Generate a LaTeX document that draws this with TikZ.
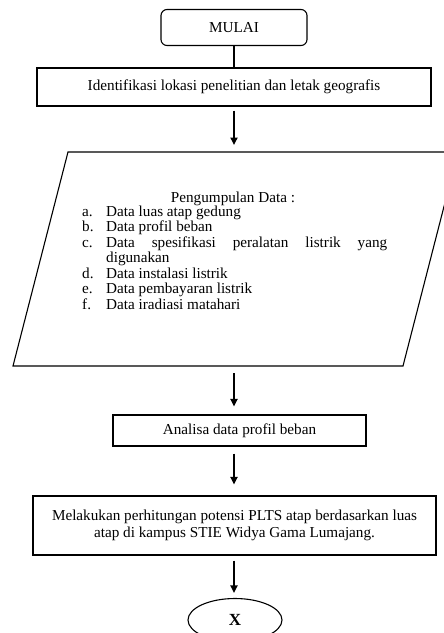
\documentclass[tikz,border=0pt]{standalone}
\usepackage{fontspec}
\setmainfont{Liberation Serif}
\usetikzlibrary{arrows.meta,shapes.geometric}
\begin{document}
\begin{tikzpicture}[x=1pt,y=-1pt,
  every node/.style={font=\fontsize{15.2}{17.5}\selectfont},
  box/.style={draw=black,line width=1.1pt,inner sep=0pt,align=center},
  conn/.style={line width=1.8pt},
  arr/.style={line width=1.8pt,-{Triangle[length=7.5pt,width=7pt]}},
  itemtext/.style={anchor=base west,inner sep=0pt}
]
\useasboundingbox[fill=white] (0,0) rectangle (444,633);
% start
\node[box,rounded corners=6pt,minimum width=146pt,minimum height=36pt] (mulai) at (234,27.5) {MULAI};
\node[box,minimum width=394pt,minimum height=38pt] (ident) at (234,87) {Identifikasi lokasi penelitian dan letak geografis};
% parallelogram
\begin{scope}
\clip (0,0) rectangle (444,633);
\draw[line width=1.1pt] (13,366) -- (403,366) -- (458,152) -- (68,152) -- cycle;
\end{scope}
\coordinate (partop) at (234,152);
\coordinate (parbot) at (234,366);
\node[anchor=base,inner sep=0pt] (pgtitle) at (233,202) {Pengumpulan Data :};
\foreach \lab/\txt/\yy [count=\i] in {a./Data luas atap gedung/216, b./Data profil beban/231.5, c./{\makebox[281pt][s]{Data spesifikasi peralatan listrik yang}}/247, /digunakan/262.5, d./Data instalasi listrik/278, e./Data pembayaran listrik/293.5, f./Data iradiasi matahari/309}{
  \node[itemtext] (lab\i) at (82,\yy) {\lab};
  \node[itemtext] (txt\i) at (106,\yy) {\txt};
}
\node[box,minimum width=253pt,minimum height=31pt] (ana) at (239.5,430.5) {Analisa data profil beban};
\node[box,minimum width=403pt,minimum height=59pt] (calc) at (234.5,525.5) {Melakukan perhitungan potensi PLTS atap berdasarkan luas\\atap di kampus STIE Widya Gama Lumajang.};
\node[draw=black,line width=1.1pt,ellipse,inner sep=0pt,minimum width=94pt,minimum height=43pt] (endx) at (235,620) {\fontsize{17}{20}\selectfont\textbf{X}};
% connectors
\draw[conn] (mulai.south) -- (ident.north);
\draw[arr,shorten <=4pt,shorten >=7pt] (ident.south) -- (partop);
\draw[arr,shorten <=7pt,shorten >=8pt] (parbot) -- (ana.north -| parbot);
\draw[arr,shorten <=7pt,shorten >=11pt] (ana.south -| parbot) -- (calc.north -| parbot);
\draw[arr,shorten <=5pt,shorten >=5pt] (calc.south -| parbot) -- (endx.north -| parbot);
\end{tikzpicture}
\end{document}
